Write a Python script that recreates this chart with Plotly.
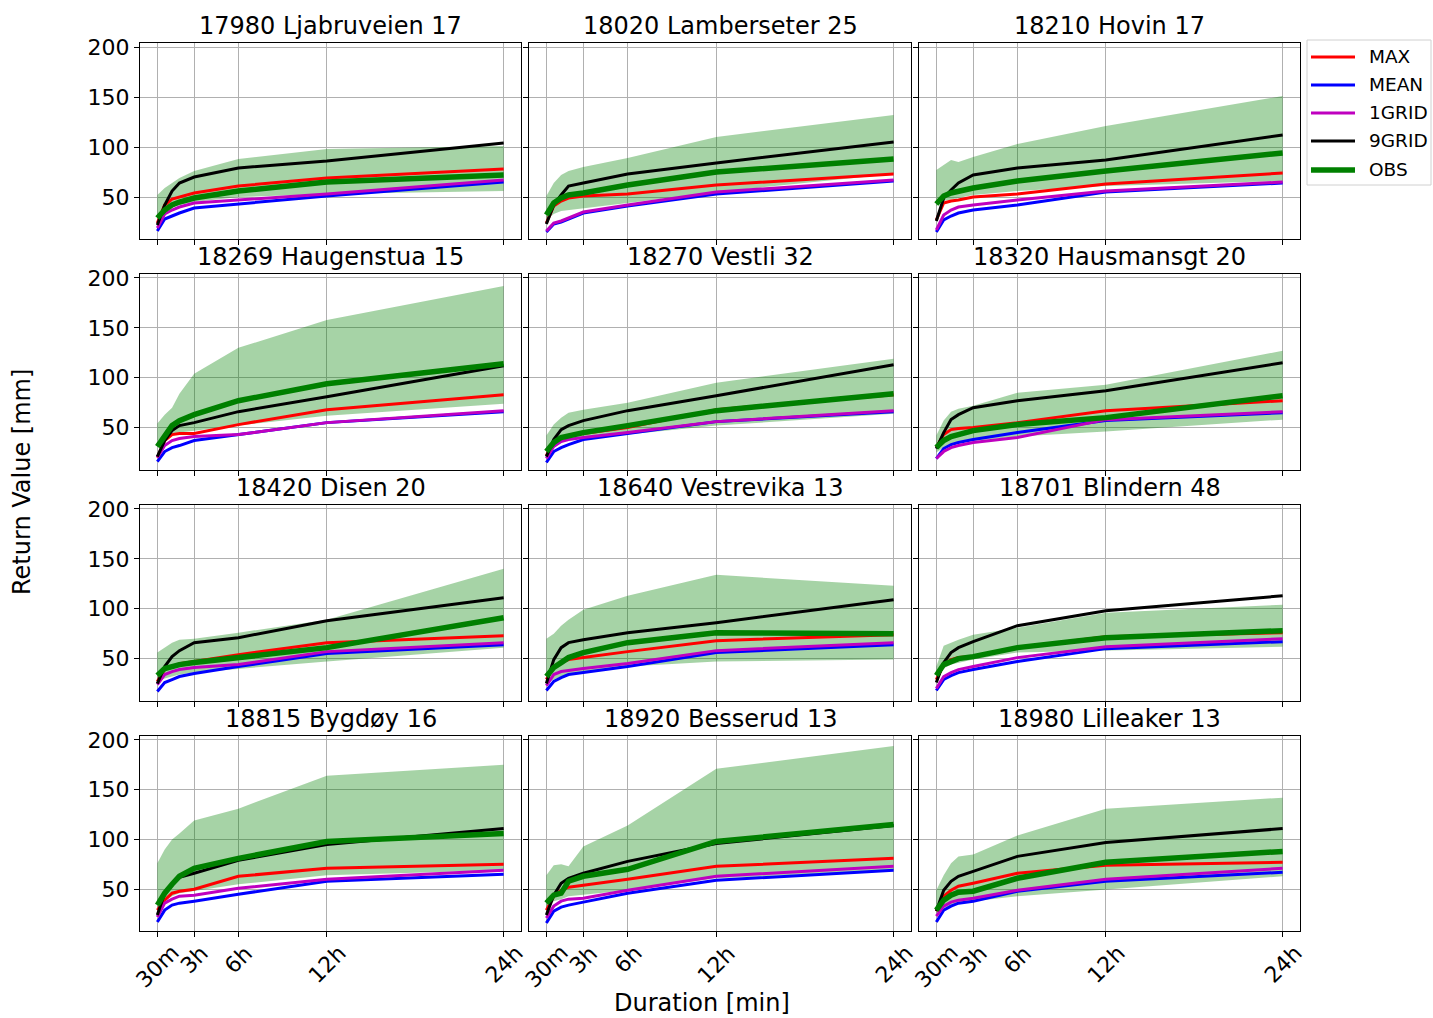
import plotly.graph_objects as go

# ---------------- data ----------------
durations = [30, 60, 90, 120, 180, 360, 720, 1440]
tick_vals = [30, 180, 360, 720, 1440]
tick_text = ["30m", "3h", "6h", "12h", "24h"]
y_ticks = [50, 100, 150, 200]

stations = [
    "17980 Ljabruveien 17", "18020 Lamberseter 25", "18210 Hovin 17",
    "18269 Haugenstua 15", "18270 Vestli 32", "18320 Hausmansgt 20",
    "18420 Disen 20", "18640 Vestrevika 13", "18701 Blindern 48",
    "18815 Bygdøy 16", "18920 Besserud 13", "18980 Lilleaker 13",
]

max_vals = [
    [24, 42, 48, 50, 54, 61, 69, 78],
    [24, 41, 46, 49, 51, 53, 62, 73],
    [27, 44, 46, 47, 50, 53, 63, 74],
    [20, 37, 43, 44, 44, 53, 68, 83],
    [22, 35, 40, 42, 44, 50, 68, 83],
    [30, 43, 48, 49, 50, 55, 67, 77],
    [27, 39, 42, 45, 47, 54, 66, 73],
    [29, 42, 46, 49, 51, 57, 68, 74],
    [29, 44, 49, 51, 52, 61, 72, 76],
    [29, 39, 46, 48, 50, 63, 71, 75],
    [29, 43, 49, 52, 54, 60, 73, 81],
    [28, 43, 49, 53, 56, 66, 74, 77],
]
mean_vals = [
    [16, 28, 31, 34, 39, 43, 51, 65],
    [15, 23, 25, 28, 34, 41, 53, 66],
    [15, 27, 31, 34, 37, 42, 55, 64],
    [16, 26, 30, 32, 37, 43, 55, 66],
    [15, 26, 30, 33, 38, 44, 56, 66],
    [19, 29, 33, 35, 38, 45, 57, 65],
    [17, 26, 29, 32, 35, 42, 55, 64],
    [18, 27, 31, 34, 36, 42, 56, 64],
    [18, 29, 33, 36, 39, 47, 60, 67],
    [17, 29, 34, 36, 38, 45, 58, 65],
    [16, 28, 32, 34, 37, 46, 59, 69],
    [17, 29, 33, 36, 38, 48, 58, 67],
]
grid1_vals = [
    [19, 33, 37, 40, 44, 47, 53, 67],
    [16, 24, 26, 29, 35, 42, 55, 67],
    [17, 32, 37, 40, 42, 47, 56, 65],
    [20, 32, 37, 39, 41, 43, 55, 67],
    [19, 31, 36, 38, 40, 45, 56, 67],
    [19, 26, 30, 32, 35, 40, 58, 66],
    [24, 34, 37, 39, 41, 44, 57, 66],
    [23, 34, 37, 38, 40, 45, 58, 66],
    [20, 32, 36, 39, 42, 51, 62, 70],
    [22, 36, 40, 43, 44, 51, 60, 69],
    [21, 33, 38, 40, 41, 49, 63, 73],
    [23, 33, 37, 39, 41, 49, 60, 71],
]
grid9_vals = [
    [22, 42, 56, 64, 70, 79, 86, 104],
    [23, 42, 52, 61, 64, 73, 84, 105],
    [26, 49, 57, 64, 72, 79, 87, 112],
    [21, 37, 47, 52, 55, 66, 81, 112],
    [21, 38, 48, 52, 57, 67, 82, 113],
    [29, 45, 58, 63, 70, 77, 87, 115],
    [25, 42, 52, 58, 66, 71, 88, 111],
    [25, 49, 61, 66, 69, 76, 86, 109],
    [26, 46, 56, 61, 67, 83, 98, 113],
    [24, 46, 55, 62, 66, 79, 95, 111],
    [24, 44, 56, 61, 66, 78, 96, 114],
    [28, 49, 58, 63, 68, 83, 97, 111],
]
obs_vals = [
    [29, 37, 42, 45, 49, 56, 65, 72],
    [32, 44, 49, 52, 54, 62, 75, 88],
    [43, 51, 54, 56, 59, 66, 76, 94],
    [31, 42, 52, 57, 63, 77, 94, 114],
    [26, 35, 40, 42, 45, 52, 67, 84],
    [30, 37, 41, 43, 47, 53, 60, 82],
    [33, 40, 42, 44, 46, 51, 61, 91],
    [32, 41, 46, 51, 56, 66, 76, 75],
    [33, 44, 47, 50, 52, 61, 71, 78],
    [34, 46, 55, 63, 71, 81, 98, 106],
    [36, 44, 46, 58, 63, 70, 98, 115],
    [29, 39, 44, 47, 48, 61, 77, 88],
]
obs_hi = [
    [52, 59, 64, 69, 76, 88, 98, 101],
    [51, 64, 72, 76, 80, 89, 110, 132],
    [77, 82, 87, 85, 90, 103, 121, 151],
    [54, 63, 70, 84, 104, 130, 158, 192],
    [42, 53, 60, 65, 68, 75, 95, 119],
    [42, 57, 66, 69, 72, 85, 93, 127],
    [56, 61, 66, 69, 70, 76, 89, 140],
    [70, 75, 83, 89, 99, 113, 134, 123],
    [42, 63, 66, 69, 74, 81, 96, 104],
    [76, 90, 100, 106, 119, 131, 164, 175],
    [64, 74, 75, 73, 93, 114, 171, 194],
    [49, 64, 76, 83, 85, 104, 131, 142],
]
obs_lo = [
    [30, 36, 40, 42, 45, 50, 53, 56],
    [27, 33, 36, 37, 39, 44, 55, 73],
    [41, 46, 47, 49, 52, 56, 61, 66],
    [37, 40, 43, 45, 47, 52, 62, 74],
    [25, 31, 35, 38, 40, 43, 52, 64],
    [25, 30, 33, 35, 37, 41, 46, 58],
    [27, 30, 32, 34, 36, 40, 47, 61],
    [25, 29, 32, 34, 37, 42, 47, 49],
    [30, 40, 44, 46, 49, 56, 58, 62],
    [32, 38, 43, 46, 48, 55, 64, 69],
    [32, 38, 40, 43, 44, 49, 61, 69],
    [26, 31, 33, 36, 38, 43, 50, 63],
]

series = [
    ("MAX", max_vals, "#ff0000", 3),
    ("MEAN", mean_vals, "#0000ff", 3),
    ("1GRID", grid1_vals, "#bf00bf", 3),
    ("9GRID", grid9_vals, "#000000", 3),
    ("OBS", obs_vals, "#008000", 5.5),
]

# ---------------- layout geometry (pixels) ----------------
W, H = 1433, 1018
col_px = [(140, 521), (529, 911), (919, 1300)]
row_px = [(43, 239), (274, 469.5), (505, 700.5), (736, 931)]
FONT = "DejaVu Sans"

fig = go.Figure()
annotations = []
shapes = []

for i, name in enumerate(stations):
    r, c = divmod(i, 3)
    ax = "" if i == 0 else str(i + 1)
    xref, yref = "x" + ax, "y" + ax
    # fill band
    fig.add_trace(go.Scatter(
        x=durations + durations[::-1],
        y=obs_hi[i] + obs_lo[i][::-1],
        fill="toself", fillcolor="rgba(0,128,0,0.35)",
        line=dict(width=0), mode="lines", hoverinfo="skip",
        showlegend=False, xaxis=xref, yaxis=yref))
    for label, vals, color, lw in series:
        fig.add_trace(go.Scatter(
            x=durations, y=vals[i], mode="lines", name=label,
            line=dict(color=color, width=lw),
            showlegend=False, xaxis=xref, yaxis=yref))

    x0, x1 = col_px[c]
    y0, y1 = row_px[r]
    common = dict(showline=True, mirror=True, linecolor="black", linewidth=1,
                  ticks="outside", ticklen=5, tickwidth=1, tickcolor="black",
                  showgrid=True, gridcolor="#b0b0b0", gridwidth=1, zeroline=False,
                  automargin=False,
                  tickfont=dict(family=FONT, size=22, color="black"))
    fig.layout["xaxis" + ax] = dict(
        domain=[x0 / W, x1 / W], anchor=yref, range=[-40.5, 1510.5],
        tickmode="array", tickvals=tick_vals, ticktext=tick_text,
        showticklabels=False, **common)
    fig.layout["yaxis" + ax] = dict(
        domain=[1 - y1 / H, 1 - y0 / H], anchor=xref, range=[8, 204],
        tickmode="array", tickvals=y_ticks, showticklabels=(c == 0), **common)
    annotations.append(dict(
        text=name, x=(x0 + x1) / 2 / W, y=1 - (y0 - 17) / H,
        xref="paper", yref="paper", xanchor="center", yanchor="middle",
        showarrow=False, font=dict(family=FONT, size=24, color="black")))
    # rotated x tick labels centred under the ticks (bottom row only)
    if r == 3:
        for tv, tt in zip(tick_vals, tick_text):
            annotations.append(dict(
                text=tt, x=tv, xref=xref, y=1 - (y1 + 8) / H, yref="paper",
                xanchor="center", yanchor="top", textangle=-45,
                showarrow=False, borderpad=0,
                font=dict(family=FONT, size=22, color="black")))

# axis labels
annotations.append(dict(text="Duration [min]", x=702 / W, y=1 - 1003 / H,
                        xref="paper", yref="paper", xanchor="center", yanchor="middle",
                        showarrow=False, font=dict(family=FONT, size=24, color="black")))
annotations.append(dict(text="Return Value [mm]", x=22 / W, y=1 - 482 / H,
                        xref="paper", yref="paper", xanchor="center", yanchor="middle",
                        textangle=-90, showarrow=False,
                        font=dict(family=FONT, size=24, color="black")))

# legend drawn manually
shapes.append(dict(type="rect", xref="paper", yref="paper",
                   x0=1307 / W, x1=1431 / W, y0=1 - 185 / H, y1=1 - 40 / H,
                   line=dict(color="#d0d0d0", width=1), fillcolor="white", layer="above"))
leg_y = [57, 85, 113, 141, 170]
for (label, vals, color, lw), ly in zip(series, leg_y):
    shapes.append(dict(type="line", xref="paper", yref="paper",
                       x0=1311 / W, x1=1355 / W, y0=1 - ly / H, y1=1 - ly / H,
                       line=dict(color=color, width=lw), layer="above"))
    annotations.append(dict(text=label, x=1367 / W, y=1 - ly / H,
                            xref="paper", yref="paper", xanchor="left", yanchor="middle",
                            showarrow=False, font=dict(family=FONT, size=18.5, color="black")))

fig.update_layout(
    width=W, height=H, margin=dict(l=0, r=0, t=0, b=0),
    paper_bgcolor="white", plot_bgcolor="white",
    showlegend=False, annotations=annotations, shapes=shapes,
    font=dict(family=FONT, color="black"))

fig.write_html("out.html")
